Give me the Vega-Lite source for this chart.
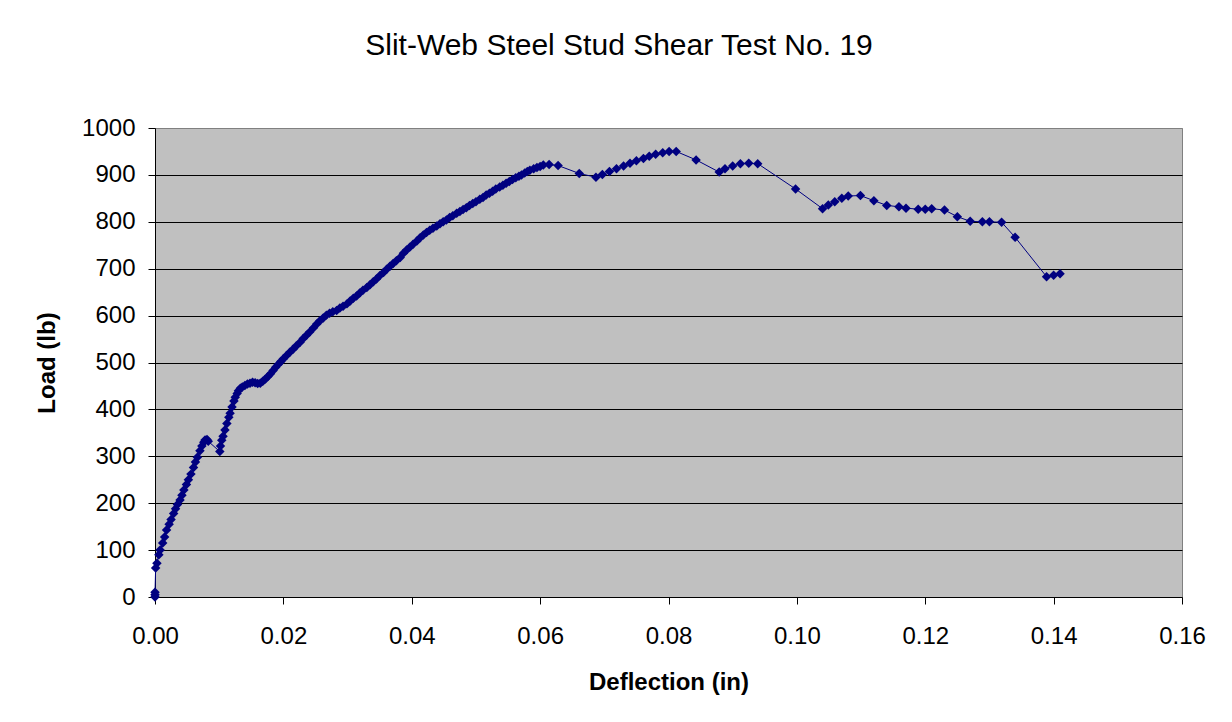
{
  "$schema": "https://vega.github.io/schema/vega-lite/v6.json",
  "width": 1027,
  "height": 469,
  "autosize": {"type": "none"},
  "padding": {"left": 155, "top": 128, "right": 50, "bottom": 125},
  "background": "white",
  "title": {
    "text": "Slit-Web Steel Stud Shear Test No. 19",
    "font": "Liberation Sans",
    "fontSize": 30,
    "fontWeight": "normal",
    "color": "black",
    "anchor": "middle",
    "baseline": "alphabetic",
    "offset": 31,
    "dx": -49.5
  },
  "config": {
    "view": {"fill": "#C0C0C0", "stroke": "#808080", "strokeWidth": 1}
  },
  "data": {
    "values": [
      {"deflection": 0.0000, "load": 0},
      {"deflection": 0.0000, "load": 5},
      {"deflection": 0.0000, "load": 10},
      {"deflection": 0.0001, "load": 62},
      {"deflection": 0.0003, "load": 72},
      {"deflection": 0.0006, "load": 90},
      {"deflection": 0.0008, "load": 100},
      {"deflection": 0.0012, "load": 115},
      {"deflection": 0.0015, "load": 128},
      {"deflection": 0.0018, "load": 143},
      {"deflection": 0.0022, "load": 155},
      {"deflection": 0.0025, "load": 165},
      {"deflection": 0.0029, "load": 178},
      {"deflection": 0.0032, "load": 188},
      {"deflection": 0.0035, "load": 197},
      {"deflection": 0.0039, "load": 207},
      {"deflection": 0.0042, "load": 217},
      {"deflection": 0.0045, "load": 228},
      {"deflection": 0.0049, "load": 240},
      {"deflection": 0.0052, "load": 250},
      {"deflection": 0.0056, "load": 262},
      {"deflection": 0.0060, "load": 276},
      {"deflection": 0.0063, "load": 288},
      {"deflection": 0.0066, "load": 298},
      {"deflection": 0.0070, "load": 312},
      {"deflection": 0.0073, "load": 322},
      {"deflection": 0.0076, "load": 330},
      {"deflection": 0.0078, "load": 335},
      {"deflection": 0.0081, "load": 336},
      {"deflection": 0.0083, "load": 332},
      {"deflection": 0.0101, "load": 310},
      {"deflection": 0.0102, "load": 322},
      {"deflection": 0.0104, "load": 334},
      {"deflection": 0.0106, "load": 343},
      {"deflection": 0.0109, "load": 356},
      {"deflection": 0.0112, "load": 370},
      {"deflection": 0.0115, "load": 383},
      {"deflection": 0.0117, "load": 392},
      {"deflection": 0.0120, "load": 405},
      {"deflection": 0.0123, "load": 418},
      {"deflection": 0.0125, "load": 426},
      {"deflection": 0.0128, "load": 434},
      {"deflection": 0.0130, "load": 440},
      {"deflection": 0.0133, "load": 445},
      {"deflection": 0.0136, "load": 448},
      {"deflection": 0.0140, "load": 451},
      {"deflection": 0.0144, "load": 454},
      {"deflection": 0.0148, "load": 456},
      {"deflection": 0.0152, "load": 458},
      {"deflection": 0.0156, "load": 457},
      {"deflection": 0.0160, "load": 455},
      {"deflection": 0.0164, "load": 456},
      {"deflection": 0.0168, "load": 460},
      {"deflection": 0.0172, "load": 465},
      {"deflection": 0.0176, "load": 470},
      {"deflection": 0.0180, "load": 476},
      {"deflection": 0.0184, "load": 483},
      {"deflection": 0.0188, "load": 490},
      {"deflection": 0.0192, "load": 496},
      {"deflection": 0.0196, "load": 502},
      {"deflection": 0.0200, "load": 508},
      {"deflection": 0.0205, "load": 515},
      {"deflection": 0.0210, "load": 522},
      {"deflection": 0.0215, "load": 528},
      {"deflection": 0.0220, "load": 535},
      {"deflection": 0.0226, "load": 543},
      {"deflection": 0.0231, "load": 551},
      {"deflection": 0.0236, "load": 558},
      {"deflection": 0.0241, "load": 565},
      {"deflection": 0.0247, "load": 574},
      {"deflection": 0.0252, "load": 582},
      {"deflection": 0.0257, "load": 589},
      {"deflection": 0.0262, "load": 595},
      {"deflection": 0.0267, "load": 601},
      {"deflection": 0.0272, "load": 605},
      {"deflection": 0.0277, "load": 608},
      {"deflection": 0.0283, "load": 611},
      {"deflection": 0.0288, "load": 616},
      {"deflection": 0.0293, "load": 620},
      {"deflection": 0.0299, "load": 625},
      {"deflection": 0.0304, "load": 631},
      {"deflection": 0.0309, "load": 637},
      {"deflection": 0.0314, "load": 642},
      {"deflection": 0.0319, "load": 648},
      {"deflection": 0.0324, "load": 654},
      {"deflection": 0.0330, "load": 660},
      {"deflection": 0.0335, "load": 666},
      {"deflection": 0.0340, "load": 672},
      {"deflection": 0.0345, "load": 678},
      {"deflection": 0.0350, "load": 685},
      {"deflection": 0.0356, "load": 692},
      {"deflection": 0.0361, "load": 699},
      {"deflection": 0.0366, "load": 705},
      {"deflection": 0.0371, "load": 711},
      {"deflection": 0.0376, "load": 717},
      {"deflection": 0.0382, "load": 724},
      {"deflection": 0.0387, "load": 733},
      {"deflection": 0.0392, "load": 740},
      {"deflection": 0.0397, "load": 746},
      {"deflection": 0.0402, "load": 752},
      {"deflection": 0.0408, "load": 759},
      {"deflection": 0.0413, "load": 766},
      {"deflection": 0.0418, "load": 772},
      {"deflection": 0.0423, "load": 777},
      {"deflection": 0.0428, "load": 782},
      {"deflection": 0.0433, "load": 786},
      {"deflection": 0.0439, "load": 791},
      {"deflection": 0.0444, "load": 796},
      {"deflection": 0.0449, "load": 800},
      {"deflection": 0.0454, "load": 804},
      {"deflection": 0.0459, "load": 809},
      {"deflection": 0.0464, "load": 813},
      {"deflection": 0.0470, "load": 818},
      {"deflection": 0.0475, "load": 822},
      {"deflection": 0.0480, "load": 826},
      {"deflection": 0.0485, "load": 830},
      {"deflection": 0.0490, "load": 835},
      {"deflection": 0.0495, "load": 839},
      {"deflection": 0.0500, "load": 843},
      {"deflection": 0.0506, "load": 848},
      {"deflection": 0.0511, "load": 852},
      {"deflection": 0.0516, "load": 857},
      {"deflection": 0.0521, "load": 861},
      {"deflection": 0.0526, "load": 865},
      {"deflection": 0.0531, "load": 870},
      {"deflection": 0.0537, "load": 874},
      {"deflection": 0.0542, "load": 878},
      {"deflection": 0.0547, "load": 882},
      {"deflection": 0.0552, "load": 886},
      {"deflection": 0.0557, "load": 890},
      {"deflection": 0.0562, "load": 894},
      {"deflection": 0.0567, "load": 897},
      {"deflection": 0.0571, "load": 900},
      {"deflection": 0.0576, "load": 904},
      {"deflection": 0.0580, "load": 907},
      {"deflection": 0.0584, "load": 910},
      {"deflection": 0.0590, "load": 913},
      {"deflection": 0.0595, "load": 916},
      {"deflection": 0.0600, "load": 918},
      {"deflection": 0.0605, "load": 921},
      {"deflection": 0.0614, "load": 922},
      {"deflection": 0.0628, "load": 920},
      {"deflection": 0.0661, "load": 903},
      {"deflection": 0.0687, "load": 895},
      {"deflection": 0.0697, "load": 901},
      {"deflection": 0.0708, "load": 907},
      {"deflection": 0.0719, "load": 913},
      {"deflection": 0.0730, "load": 919},
      {"deflection": 0.0740, "load": 925},
      {"deflection": 0.0750, "load": 930},
      {"deflection": 0.0761, "load": 935},
      {"deflection": 0.0770, "load": 940},
      {"deflection": 0.0780, "load": 944},
      {"deflection": 0.0791, "load": 947},
      {"deflection": 0.0801, "load": 950},
      {"deflection": 0.0812, "load": 950},
      {"deflection": 0.0843, "load": 932},
      {"deflection": 0.0879, "load": 906},
      {"deflection": 0.0888, "load": 913},
      {"deflection": 0.0900, "load": 919},
      {"deflection": 0.0912, "load": 924},
      {"deflection": 0.0925, "load": 925},
      {"deflection": 0.0939, "load": 924},
      {"deflection": 0.0998, "load": 870},
      {"deflection": 0.1040, "load": 828},
      {"deflection": 0.1049, "load": 836},
      {"deflection": 0.1059, "load": 843},
      {"deflection": 0.1070, "load": 850},
      {"deflection": 0.1080, "load": 855},
      {"deflection": 0.1099, "load": 856},
      {"deflection": 0.1120, "load": 845},
      {"deflection": 0.1140, "load": 835},
      {"deflection": 0.1159, "load": 832},
      {"deflection": 0.1170, "load": 829},
      {"deflection": 0.1189, "load": 827},
      {"deflection": 0.1200, "load": 827},
      {"deflection": 0.1210, "load": 828},
      {"deflection": 0.1230, "load": 825},
      {"deflection": 0.1250, "load": 811},
      {"deflection": 0.1270, "load": 801},
      {"deflection": 0.1289, "load": 800},
      {"deflection": 0.1300, "load": 800},
      {"deflection": 0.1319, "load": 799},
      {"deflection": 0.1340, "load": 767},
      {"deflection": 0.1389, "load": 683},
      {"deflection": 0.1400, "load": 686},
      {"deflection": 0.1410, "load": 689}
    ]
  },
  "encoding": {
    "x": {
      "field": "deflection",
      "type": "quantitative",
      "scale": {"domain": [0, 0.16], "nice": false, "zero": true},
      "axis": {
        "values": [0, 0.02, 0.04, 0.06, 0.08, 0.1, 0.12, 0.14, 0.16],
        "format": ".2f",
        "title": "Deflection (in)",
        "grid": false,
        "domainColor": "black",
        "domainWidth": 1,
        "tickColor": "black",
        "tickSize": 7,
        "labelFont": "Liberation Sans",
        "labelFontSize": 24,
        "labelColor": "black",
        "labelPadding": 20,
        "labelFlush": false,
        "labelOverlap": false,
        "titleFont": "Liberation Sans",
        "titleFontSize": 24,
        "titleFontWeight": "bold",
        "titleColor": "black",
        "titleX": 513.5,
        "titleY": 85,
        "titleAlign": "center",
        "titleBaseline": "middle"
      }
    },
    "y": {
      "field": "load",
      "type": "quantitative",
      "scale": {"domain": [0, 1000], "nice": false},
      "axis": {
        "values": [0, 100, 200, 300, 400, 500, 600, 700, 800, 900, 1000],
        "format": "d",
        "title": "Load (lb)",
        "grid": true,
        "gridColor": {"condition": {"test": "datum.value >= 1000 || datum.value <= 0", "value": "#808080"}, "value": "black"},
        "gridOpacity": 1,
        "gridWidth": 1,
        "domainColor": "black",
        "domainWidth": 1,
        "tickColor": "black",
        "tickSize": 7,
        "labelFont": "Liberation Sans",
        "labelFontSize": 24,
        "labelColor": "black",
        "labelPadding": 13,
        "labelOverlap": false,
        "titleFont": "Liberation Sans",
        "titleFontSize": 24,
        "titleFontWeight": "bold",
        "titleColor": "black",
        "titleX": -108,
        "titleY": 234.5,
        "titleAngle": 270,
        "titleAlign": "center",
        "titleBaseline": "middle"
      }
    }
  },
  "layer": [
    {"mark": {"type": "line", "color": "#000080", "strokeWidth": 1}},
    {"mark": {"type": "point", "shape": "diamond", "filled": true, "color": "#000080", "size": 90, "opacity": 1}}
  ]
}
